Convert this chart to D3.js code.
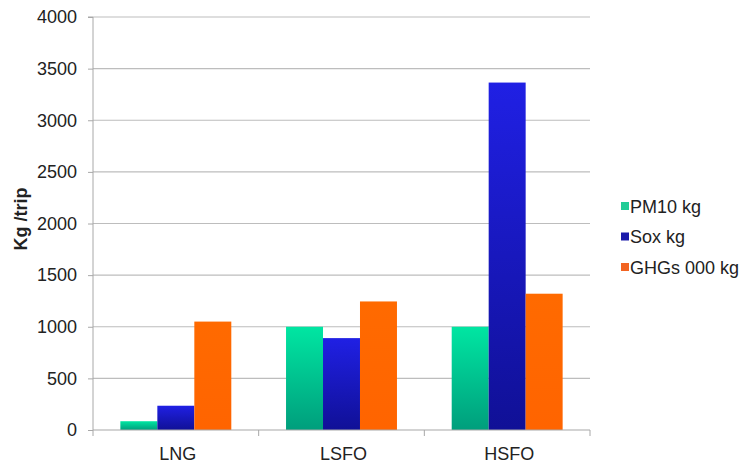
<!DOCTYPE html>
<html>
<head>
<meta charset="utf-8">
<script src="https://cdn.jsdelivr.net/npm/d3@7"></script>
<style>
  body { margin: 0; background: #fff; }
  text { font-family: "Liberation Sans", Arial, sans-serif; fill: #222; }
</style>
</head>
<body>
<svg id="chart" width="750" height="464"></svg>
<script>
const fuels = ["LNG", "LSFO", "HSFO"];
const seriesNames = ["PM10 kg", "Sox kg", "GHGs 000 kg"];
const pm10 = [85, 1000, 1000];
const sox = [235, 890, 3365];
const ghgs = [1050, 1245, 1320];
const yTicks = [0, 500, 1000, 1500, 2000, 2500, 3000, 3500, 4000];

const seriesValues = [pm10, sox, ghgs];
const margin = {top: 17, right: 160, bottom: 34, left: 93};
const width = 750 - margin.left - margin.right;
const height = 464 - margin.top - margin.bottom;

const svg = d3.select("#chart");

// gradients like the old excel fills
const defs = svg.append("defs");
const grads = [
  {id: "gGreen", top: "#00e6a2", bottom: "#009e7c"},
  {id: "gBlue", top: "#2020e4", bottom: "#101096"},
  {id: "gOrange", top: "#ff6a00", bottom: "#ff6400"}
];
grads.forEach(g => {
  const lg = defs.append("linearGradient").attr("id", g.id)
    .attr("x1", 0).attr("y1", 0).attr("x2", 0).attr("y2", 1);
  lg.append("stop").attr("offset", "0%").attr("stop-color", g.top);
  lg.append("stop").attr("offset", "100%").attr("stop-color", g.bottom);
});
const legendColors = ["#22cc96", "#1a1aaa", "#f26422"];

const g = svg.append("g").attr("transform", `translate(${margin.left},${margin.top})`);

const x0 = d3.scaleBand().domain(fuels).range([0, width]);
const x1 = d3.scaleBand().domain(seriesNames).range([0, x0.bandwidth()]).paddingOuter(0.74);
const y = d3.scaleLinear().domain([0, 4000]).range([height, 0]);

// grid
g.append("g").selectAll("line")
  .data(yTicks.filter(d => d > 0))
  .enter().append("line")
  .attr("x1", 0).attr("x2", width)
  .attr("y1", d => y(d)).attr("y2", d => y(d))
  .style("stroke", "#bdbdbd").style("stroke-width", 1.2);

// bars
fuels.forEach((f, i) => {
  const grp = g.append("g").attr("transform", `translate(${x0(f)},0)`);
  grp.selectAll("rect")
    .data(seriesNames.map((s, j) => ({s: s, j: j, v: seriesValues[j][i]})))
    .enter().append("rect")
    .attr("x", d => x1(d.s))
    .attr("width", x1.bandwidth())
    .attr("y", d => y(d.v))
    .attr("height", d => height - y(d.v))
    .style("fill", d => `url(#${grads[d.j].id})`);
});

// y axis
const yAxis = d3.axisLeft(y).tickValues(yTicks).tickFormat(d3.format("d")).tickSize(5).tickPadding(11);
const ya = g.append("g").call(yAxis);
ya.selectAll("text").style("font-size", "18px").style("fill", "#222");
ya.selectAll("line").style("stroke", "#a8a8a8");
ya.select(".domain").style("stroke", "#a8a8a8").attr("d", `M-5,0H0V${height}`);

// x axis
const xa = g.append("g").attr("transform", `translate(0,${height})`);
xa.append("line").attr("x1", 0).attr("x2", width).style("stroke", "#a8a8a8").style("stroke-width", 1.2);
xa.selectAll("line.tk")
  .data(fuels.map(f => x0(f) + x0.bandwidth()).concat([0]))
  .enter().append("line").attr("class", "tk")
  .attr("x1", d => d).attr("x2", d => d).attr("y1", 0).attr("y2", 6)
  .style("stroke", "#a8a8a8");
xa.selectAll("text")
  .data(fuels)
  .enter().append("text")
  .attr("x", d => x0(d) + x0.bandwidth() / 2 + 2)
  .attr("y", 30)
  .attr("text-anchor", "middle")
  .style("font-size", "18px")
  .text(d => d);

// y label
svg.append("text")
  .attr("transform", "translate(27,219) rotate(-90)")
  .attr("text-anchor", "middle")
  .style("font-size", "18px").style("font-weight", "bold")
  .text("Kg /trip");

// legend
const legend = svg.append("g").attr("transform", "translate(621,206)");
seriesNames.forEach((s, i) => {
  const row = legend.append("g").attr("transform", `translate(0,${i * 30.5})`);
  row.append("rect").attr("x", 0).attr("y", -4).attr("width", 8).attr("height", 8)
    .style("fill", legendColors[i]);
  row.append("text").attr("x", 9).attr("y", 6.5)
    .style("font-size", "18px")
    .text(s);
});
</script>
</body>
</html>
